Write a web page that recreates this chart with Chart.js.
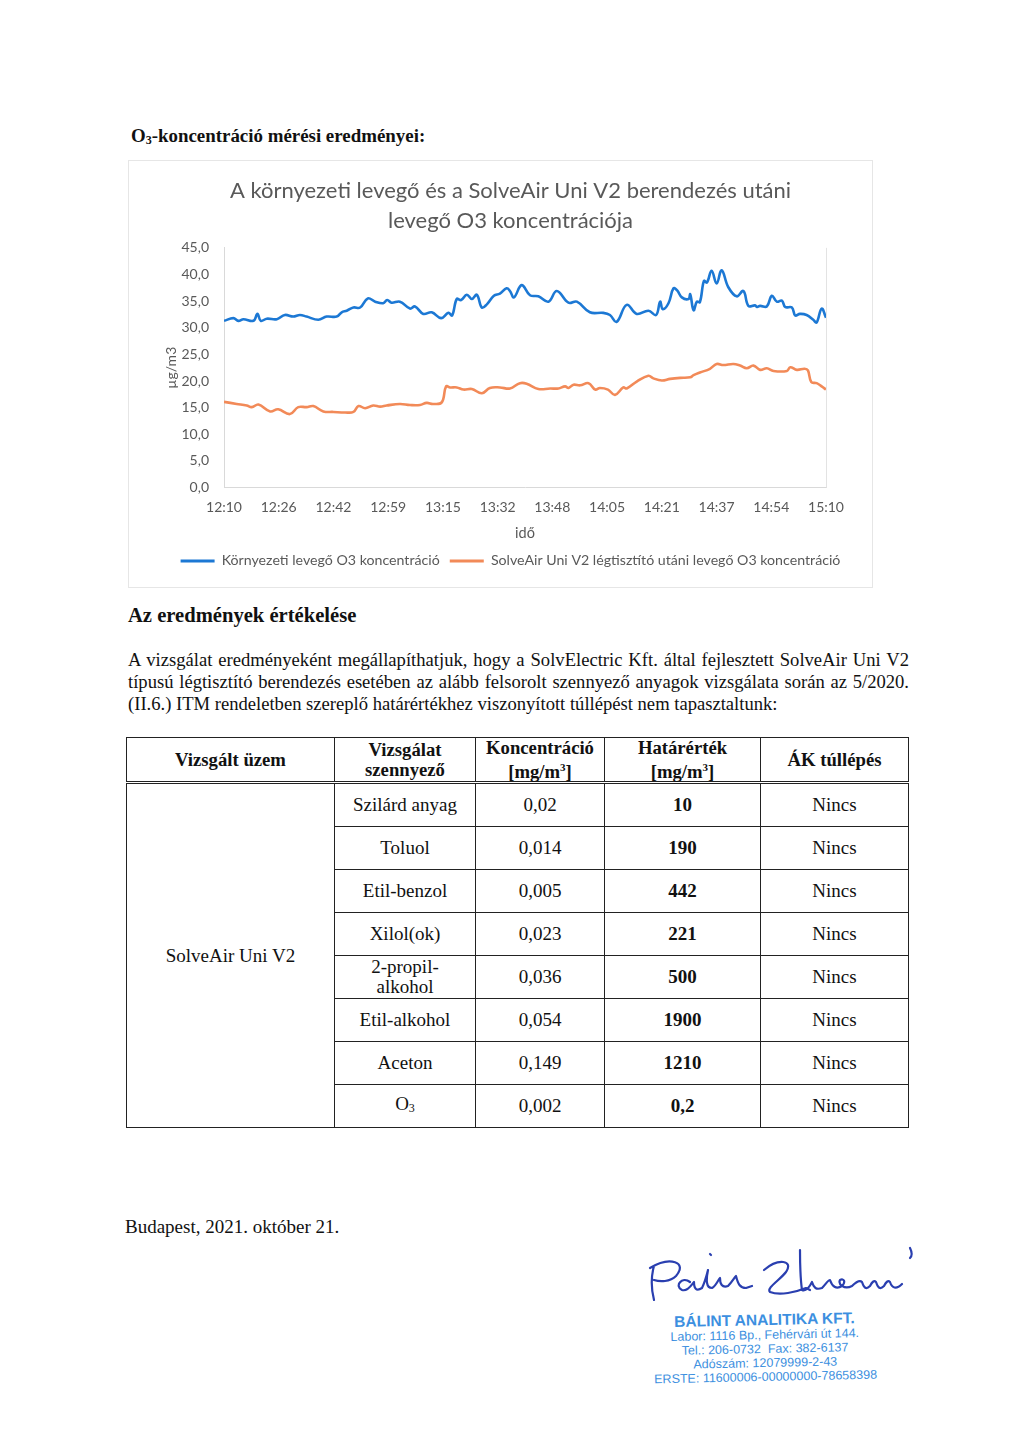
<!DOCTYPE html>
<html lang="hu">
<head>
<meta charset="utf-8">
<script src="https://cdn.jsdelivr.net/npm/chart.js@4"></script>
<style>
  body { margin: 0; background: #fff; }
  #page { position: relative; width: 1024px; height: 1448px; overflow: hidden; font-family: "Liberation Serif", "Times New Roman", serif; color: #111; }
  .abs { position: absolute; }
  #heading { left: 131px; top: 125px; font-size: 18.9px; font-weight: bold; }
  #chartBox { left: 128px; top: 160px; width: 745px; height: 428px; border: 1px solid #e6e6e6; box-sizing: border-box; }
  #sub { left: 128px; top: 604px; font-size: 20.6px; font-weight: bold; }
  #para { left: 128px; top: 649px; width: 781px; font-size: 18.6px; line-height: 22px; }
  #para div { white-space: nowrap; }
  #para .j { text-align: justify; text-align-last: justify; white-space: normal; }
  #tbl { left: 126px; top: 737px; width: 782px; border-collapse: collapse; font-size: 19px; table-layout: fixed; }
  #tbl td, #tbl th { border: 1.3px solid #222; text-align: center; padding: 0; }
  #tbl th { height: 40px; line-height: 19.5px; font-weight: bold; font-size: 18.7px; border-bottom: 3px double #222; }
  #tbl td { height: 42px; line-height: 20px; }
  #tbl td.b { font-weight: bold; }
  #date { left: 125px; top: 1216px; font-size: 19px; }
  #stamp { left: 640px; top: 1311px; width: 250px; text-align: center; color: #3c8fe0; font-family: "Liberation Sans", Arial, sans-serif; font-size: 12.5px; line-height: 14px; transform: rotate(-1.2deg); }
  #stamp .t { font-size: 15.5px; font-weight: bold; line-height: 17px; }
</style>
</head>
<body>
<div id="page">
  <div id="heading" class="abs">O<sub style="font-size:12px;vertical-align:-2px">3</sub>-koncentráció mérési eredményei:</div>
  <div id="chartBox" class="abs"><canvas id="o3chart"></canvas></div>

  <div id="sub" class="abs">Az eredmények értékelése</div>
  <div id="para" class="abs">
    <div class="j">A vizsgálat eredményeként megállapíthatjuk, hogy a SolvElectric Kft. által fejlesztett SolveAir Uni V2</div>
    <div class="j">típusú légtisztító berendezés esetében az alább felsorolt szennyező anyagok vizsgálata során az 5/2020.</div>
    <div>(II.6.) ITM rendeletben szereplő határértékhez viszonyított túllépést nem tapasztaltunk:</div>
  </div>

  <table id="tbl" class="abs">
    <colgroup><col style="width:208px"><col style="width:141px"><col style="width:129px"><col style="width:156px"><col style="width:148px"></colgroup>
    <thead><tr><th>Vizsgált üzem</th><th>Vizsgálat<br>szennyező</th><th>Koncentráció<br>[mg/m<sup style="font-size:11px">3</sup>]</th><th>Határérték<br>[mg/m<sup style="font-size:11px">3</sup>]</th><th>ÁK túllépés</th></tr></thead>
    <tbody id="tbody"></tbody>
  </table>

  <div id="date" class="abs">Budapest, 2021. október 21.</div>

  <svg class="abs" style="left:640px;top:1240px" width="280" height="70" viewBox="0 0 280 70">
    <g fill="none" stroke="#2a3fb0" stroke-width="2.2" stroke-linecap="round" stroke-linejoin="round">
      <path d="M14 26 C 10 40, 12 52, 14 60 M10 28 C 30 16, 48 22, 36 36 C 30 42, 20 42, 14 40"/>
      <path d="M50 42 C 42 36, 34 46, 42 50 C 48 52, 52 44, 54 42 C 54 48, 56 52, 62 48 C 64 44, 66 38, 68 30 C 66 40, 66 48, 72 48 C 76 46, 78 40, 80 38 C 80 44, 82 48, 88 46 C 92 42, 94 38, 96 36 C 98 44, 100 48, 106 48 L 112 46"/>
      <path d="M70 14 l1 1"/>
      <path d="M124 30 C 138 18, 154 20, 146 32 C 140 40, 126 48, 130 52 C 140 56, 156 52, 166 48 L 170 50"/>
      <path d="M160 10 C 160 24, 160 36, 162 50 C 166 52, 170 46, 172 42 C 174 48, 176 50, 182 48 C 186 44, 188 40, 190 40 C 192 46, 196 50, 202 46 C 206 42, 204 38, 200 40 C 198 44, 204 50, 212 46 C 216 42, 220 40, 222 42 C 224 48, 226 50, 230 46 C 232 42, 234 40, 236 42 C 238 48, 240 50, 244 46 C 246 42, 248 40, 250 42 C 252 48, 256 50, 262 44"/>
      <path d="M270 8 C 272 12, 272 16, 270 18"/>
    </g>
  </svg>

  <div id="stamp" class="abs">
    <div class="t">BÁLINT ANALITIKA KFT.</div>
    <div>Labor: 1116 Bp., Fehérvári út 144.</div>
    <div>Tel.: 206-0732&nbsp;&nbsp;Fax: 382-6137</div>
    <div>Adószám: 12079999-2-43</div>
    <div>ERSTE: 11600006-00000000-78658398</div>
  </div>
</div>

<script>
// time axis: minutes after 12:10
const timeLabels = ['12:10', '12:26', '12:42', '12:59', '13:15', '13:32', '13:48', '14:05', '14:21', '14:37', '14:54', '15:10'];

const ambientMin = [0, 2.8, 4.3, 5.8, 8.8, 10, 11, 12.8, 15.8, 18.2, 20.7, 22.7, 24.7, 28.2, 30.7, 33.7, 35.2, 36.7, 38.7, 40.7,
  43, 45.2, 47.6, 48.8, 50.1, 52.6, 55.6, 57.1, 59.6, 62.1, 64.9, 67.1, 68.2, 69.6, 70.9, 72.6, 74.1, 75.6, 77.1, 78.6,
  80.7, 82.5, 84.5, 85.5, 86.7, 89, 91.5, 94, 97, 99.5, 103, 105.5, 109.4, 113.4, 115.4, 117.4, 120.4, 123.4, 126.9, 129.2,
  130.4, 131.2, 132.9, 134.4, 135.5, 136.9, 138.9, 139.4, 140.4, 141.4, 142.3, 143.5, 144.4, 145.8, 147.3, 148.8, 150.8, 153.3, 155.3, 156.8,
  158.8, 159.4, 160.3, 162.3, 163.8, 165.3, 166.8, 167.8, 169.8, 170.8, 172.2, 174.2, 176.2, 177.2, 178.7, 180];
const ambientO3 = [31.3, 31.8, 31.3, 31.6, 31.3, 32.6, 31.3, 31.7, 31.6, 32.4, 32.1, 32.4, 32.1, 31.5, 32.1, 32.1, 32.9, 33.2, 33.8, 33.8,
  35.5, 34.9, 34.6, 35.2, 34.7, 34.9, 33.6, 34.0, 32.6, 32.9, 31.8, 32.8, 32.3, 35.4, 35.2, 36.2, 35.4, 36.2, 33.8, 34.4,
  36.0, 36.4, 37.4, 36.9, 35.7, 38.0, 36.1, 35.9, 34.9, 36.9, 34.7, 34.9, 32.9, 32.8, 32.4, 31.1, 34.3, 32.6, 33.2, 32.4,
  34.9, 33.5, 34.6, 37.4, 37.0, 35.7, 35.4, 36.3, 33.3, 34.9, 34.8, 38.8, 38.5, 40.7, 38.3, 40.8, 37.6, 35.9, 36.9, 34.1,
  34.2, 33.9, 34.1, 34.0, 36.0, 34.9, 35.1, 33.9, 33.8, 32.3, 32.6, 32.4, 31.5, 31.0, 33.6, 31.9];

const purifiedMin = [0, 3.8, 6.8, 8.3, 10.3, 13.8, 16.2, 19.7, 22.2, 24.7, 26.7, 29.7, 32.7, 36.2, 38.7, 40.2, 42.2, 44.6, 46.7, 48.6,
  52.6, 55.6, 58.6, 60.6, 62.5, 65.1, 66.4, 67.6, 69.6, 71.6, 74.1, 77.1, 79.5, 82.5, 85.5, 88.5, 90.5, 94, 97.5, 100,
  102, 103, 104.5, 106.5, 109, 111, 112.4, 114.8, 116.9, 119.4, 120.4, 123.4, 126.9, 128.4, 130.9, 133.4, 136.4, 139.4, 140.4, 142.3,
  145.3, 147.3, 149.3, 152.3, 154.3, 156.3, 158.3, 160.3, 162.3, 164.3, 168.3, 169.3, 171.3, 173.6, 174.6, 175.6, 177.2, 178.7, 180];
const purifiedO3 = [16.1, 15.7, 15.4, 15.1, 15.6, 14.3, 14.7, 13.8, 15.1, 15.1, 15.3, 14.3, 14.2, 14.1, 14.2, 15.3, 14.9, 15.4, 15.2, 15.4,
  15.7, 15.5, 15.5, 15.9, 15.7, 16.0, 19.0, 18.8, 18.8, 18.4, 18.5, 17.7, 18.7, 18.8, 18.6, 19.6, 19.5, 18.5, 18.6, 18.6,
  19.0, 18.7, 19.3, 19.2, 19.6, 18.4, 18.7, 18.4, 17.4, 18.8, 18.6, 19.9, 21.0, 20.5, 20.1, 20.4, 20.6, 20.7, 21.1, 21.6,
  22.3, 23.2, 23.0, 23.2, 22.9, 22.4, 22.9, 22.1, 22.4, 21.9, 21.9, 22.6, 22.1, 22.3, 22.0, 19.8, 19.6, 19.0, 18.4];

const seriesNames = ['Környezeti levegő O3 koncentráció', 'SolveAir Uni V2 légtisztító utáni levegő O3 koncentráció'];
const seriesColors = ['#1c78d4', '#f28a58'];

// table rows
const pollutants = ['Szilárd anyag', 'Toluol', 'Etil-benzol', 'Xilol(ok)', '2-propil-<br>alkohol', 'Etil-alkohol', 'Aceton', 'O<sub style="font-size:12px;vertical-align:-2px">3</sub>'];
const concentrations = ['0,02', '0,014', '0,005', '0,023', '0,036', '0,054', '0,149', '0,002'];
const limits = ['10', '190', '442', '221', '500', '1900', '1210', '0,2'];
const exceeded = ['Nincs', 'Nincs', 'Nincs', 'Nincs', 'Nincs', 'Nincs', 'Nincs', 'Nincs'];

let rows = '';
for (let i = 0; i < pollutants.length; i++) {
  rows += '<tr>';
  if (i == 0) rows += '<td rowspan="' + pollutants.length + '">SolveAir Uni V2</td>';
  rows += '<td>' + pollutants[i] + '</td><td>' + concentrations[i] + '</td><td class="b">' + limits[i] + '</td><td>' + exceeded[i] + '</td></tr>';
}
document.getElementById('tbody').innerHTML = rows;

function toPoints(xs, ys) {
  let pts = [];
  for (let i = 0; i < xs.length; i++) pts.push({ x: xs[i], y: ys[i] });
  return pts;
}

const gray = '#595959';
const font = 'Lato, "Open Sans", sans-serif';

const rightEdge = {
  id: 'rightEdge',
  beforeDatasetsDraw(chart) {
    const a = chart.chartArea, ctx = chart.ctx;
    ctx.save();
    ctx.strokeStyle = '#e3e3e3';
    ctx.lineWidth = 1;
    ctx.beginPath();
    ctx.moveTo(a.right + 0.5, a.top);
    ctx.lineTo(a.right + 0.5, a.bottom);
    ctx.stroke();
    ctx.restore();
  }
};

new Chart(document.getElementById('o3chart'), {
  type: 'line',
  data: {
    datasets: [
      { label: seriesNames[0], data: toPoints(ambientMin, ambientO3), borderColor: seriesColors[0], backgroundColor: seriesColors[0], borderWidth: 2.6, pointRadius: 0, tension: 0.4, fill: false },
      { label: seriesNames[1], data: toPoints(purifiedMin, purifiedO3), borderColor: seriesColors[1], backgroundColor: seriesColors[1], borderWidth: 2.6, pointRadius: 0, tension: 0.4, fill: false }
    ]
  },
  options: {
    responsive: true,
    maintainAspectRatio: false,
    animation: false,
    layout: { padding: { top: 5, right: 0, bottom: 9, left: 20 } },
    plugins: {
      title: {
        display: true,
        text: ['A környezeti levegő és a SolveAir Uni V2 berendezés utáni', 'levegő O3 koncentrációja'],
        color: gray,
        font: { family: font, size: 22, weight: 'normal', lineHeight: 1.36 },
        padding: { top: 10, bottom: 12 }
      },
      legend: {
        position: 'bottom',
        labels: {
          color: gray,
          font: { family: font, size: 14.2 },
          boxWidth: 34,
          boxHeight: 3,
          padding: 10,
          generateLabels(chart) {
            let items = Chart.defaults.plugins.legend.labels.generateLabels(chart);
            for (let it of items) it.lineWidth = 0;
            return items;
          }
        }
      },
      tooltip: { enabled: false }
    },
    scales: {
      x: {
        type: 'linear',
        min: 0,
        max: 180,
        grid: { display: false },
        border: { color: '#d9d9d9' },
        afterBuildTicks(scale) {
          let t = [];
          for (let i = 0; i < timeLabels.length; i++) t.push({ value: i * 180 / (timeLabels.length - 1) });
          scale.ticks = t;
        },
        ticks: {
          color: gray,
          font: { family: font, size: 14 },
          padding: 3,
          maxRotation: 0,
          autoSkip: false,
          callback(v, i) { return timeLabels[i]; }
        },
        title: { display: true, text: 'idő', color: gray, font: { family: font, size: 14.5 }, padding: { top: 6, bottom: 2 } }
      },
      y: {
        min: 0,
        max: 45,
        grid: { display: false },
        border: { color: '#d9d9d9' },
        afterFit(scale) { scale.width = 75; },
        ticks: {
          stepSize: 5,
          color: gray,
          font: { family: font, size: 14 },
          padding: 7,
          callback(v) { return v.toFixed(1).replace('.', ','); }
        },
        title: { display: true, text: 'µg/m3', color: gray, font: { family: font, size: 14 }, padding: { top: 14, bottom: 0 } }
      },
      // empty right-hand spacer so the plot ends where the original's does
      spacer: {
        type: 'linear',
        position: 'right',
        display: true,
        grid: { display: false },
        border: { display: false },
        ticks: { display: false },
        afterFit(scale) { scale.width = 46; }
      }
    }
  },
  plugins: [rightEdge]
});
</script>
</body>
</html>
